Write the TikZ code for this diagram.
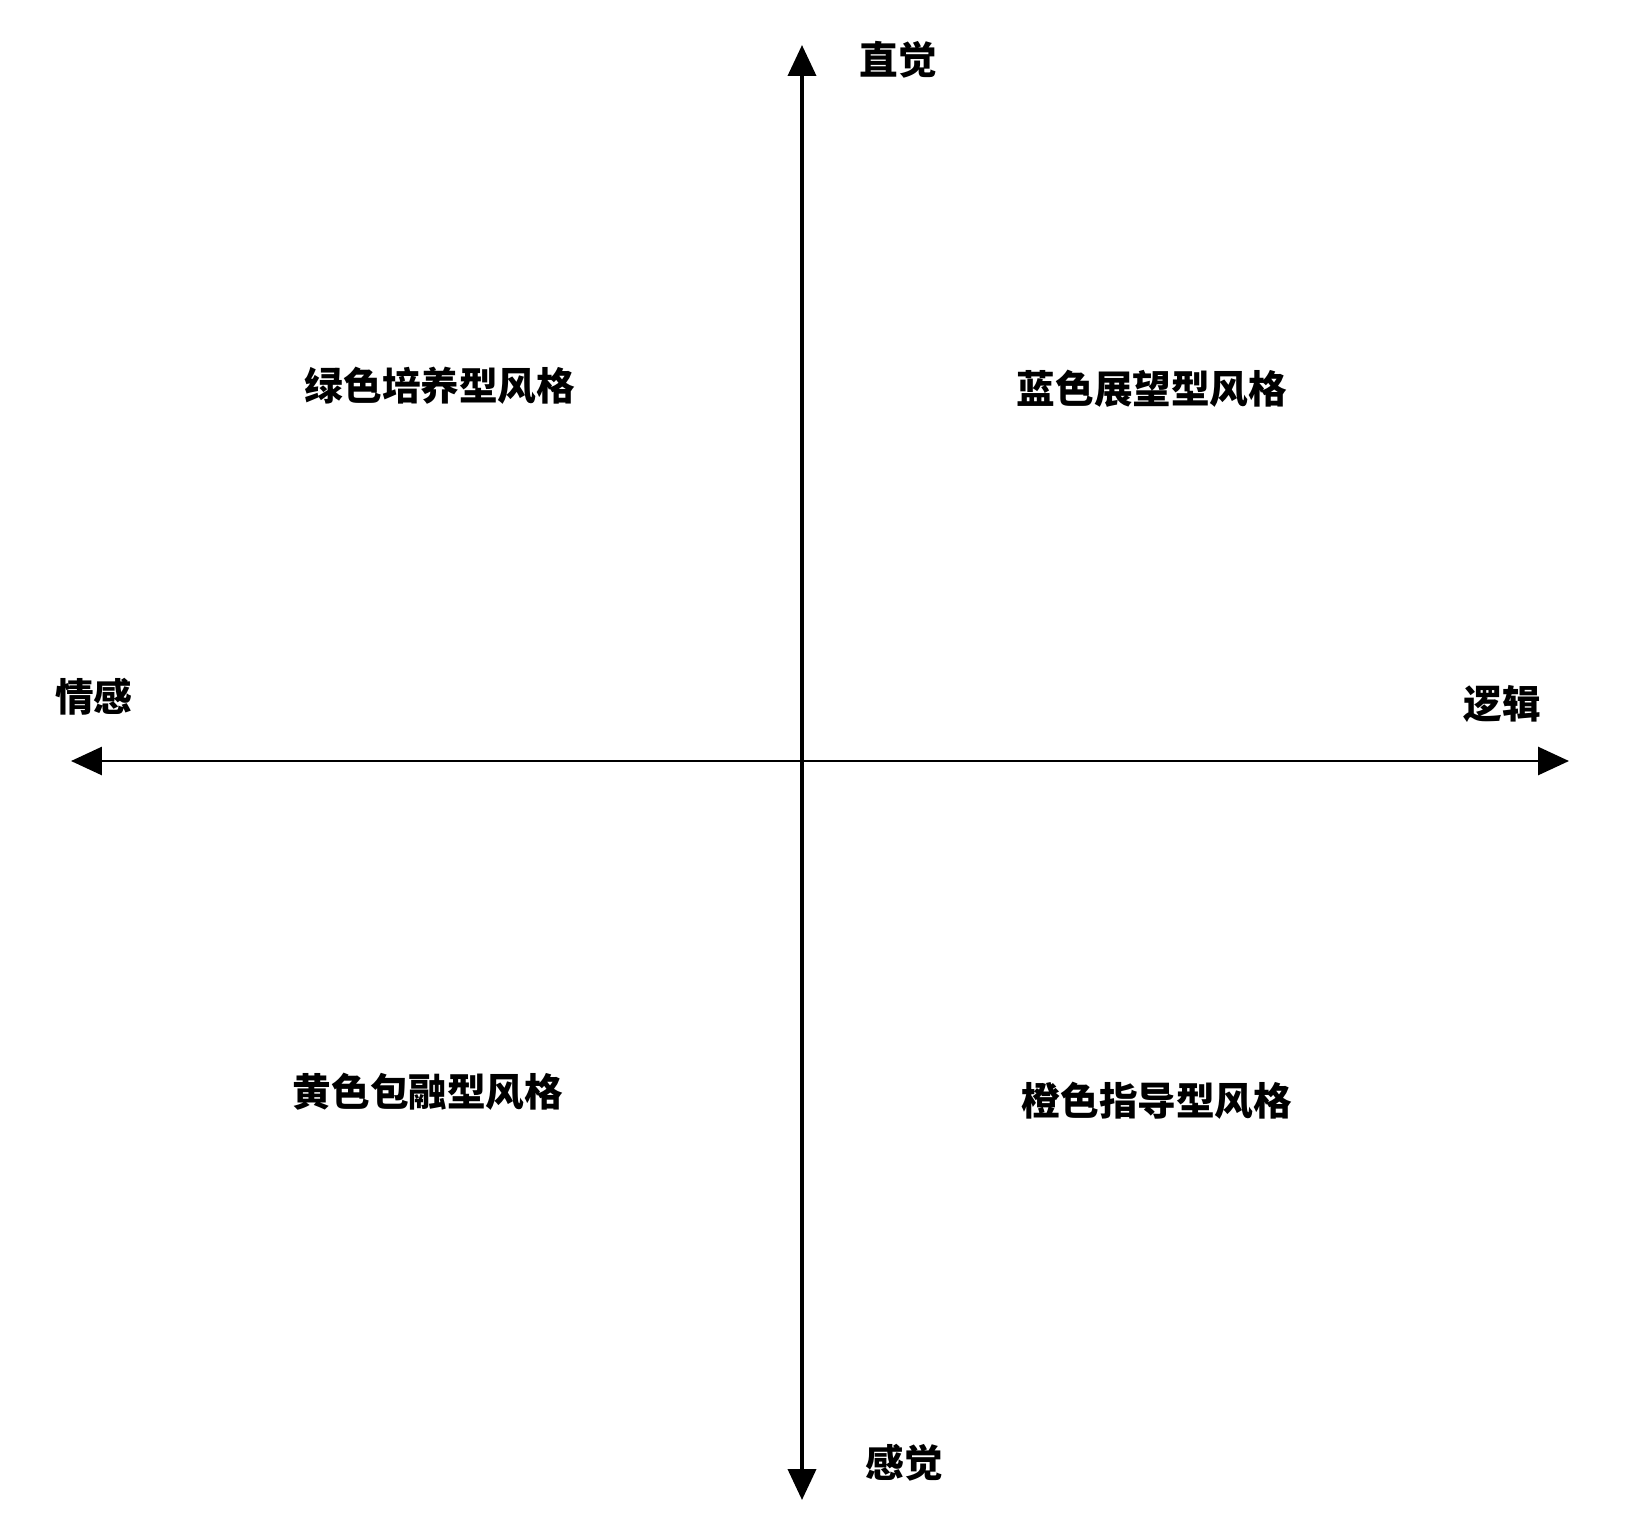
\documentclass[tikz,border=0pt]{standalone}
\usepackage{fontspec}
\setmainfont{Noto Sans CJK SC}
\usetikzlibrary{arrows.meta}

\begin{document}
\begin{tikzpicture}[
    x=0.02cm, y=-0.02cm,
    >={Triangle[length=0.62cm, width=0.56cm]},
    font=\fontsize{22}{26}\selectfont\bfseries
]
    \useasboundingbox (0,0) rectangle (1636,1532);

    % Ends of the two axes
    \coordinate (top) at (802,45);
    \coordinate (bottom) at (802,1500);
    \coordinate (left) at (71,761);
    \coordinate (right) at (1569,761);

    \draw[<->, line width=2.2pt] (bottom) -- (top);
    \draw[<->, line width=1.6pt] (left) -- (right);

    % Axis labels
    \node (intuition) at (898,60) {直觉};
    \node (sensing) at (904,1463) {感觉};
    \node (feeling) at (94,697) {情感};
    \node (logic) at (1502,704) {逻辑};

    % Quadrant labels
    \node (green) at (440,386) {绿色培养型风格};
    \node (blue) at (1152,389) {蓝色展望型风格};
    \node (yellow) at (428,1092) {黄色包融型风格};
    \node (orange) at (1157,1101) {橙色指导型风格};

\end{tikzpicture}
\end{document}
